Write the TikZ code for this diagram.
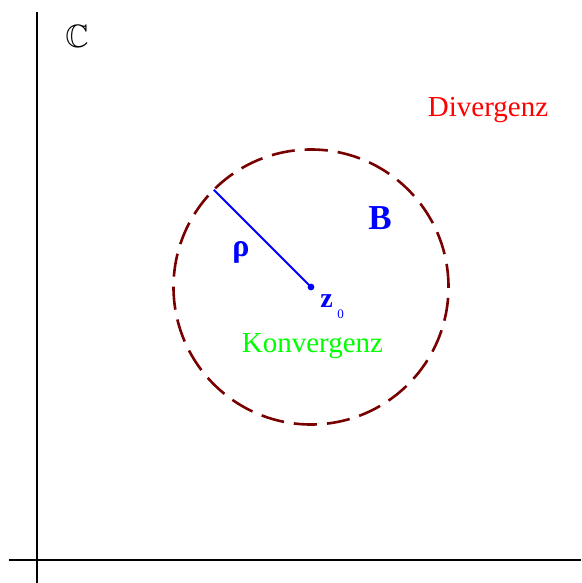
\documentclass[tikz,border=0pt]{standalone}
\usepackage{amssymb}
\usepackage{graphicx}
\usepackage{fontspec}
\setmainfont{Liberation Serif}
\definecolor{maroonc}{RGB}{120,0,0}
\tikzset{
  axis/.style={line width=1.3pt, black},
  ballstyle/.style={circle, draw=maroonc, line width=2.6pt, dash pattern=on 23.2pt off 10pt, minimum size=275pt, inner sep=0pt, outer sep=0pt},
  radius/.style={blue, line width=2pt},
  lbl/.style={inner sep=0pt, anchor=base}
}
\begin{document}
\begin{tikzpicture}[x=1pt,y=-1pt]
\useasboundingbox (0,0) rectangle (581,583);
\coordinate (vtop) at (37,12);
\coordinate (vbot) at (37,583);
\coordinate (hl) at (9,560);
\coordinate (hr) at (581,560);
\draw[axis] (vtop) -- (vbot);
\draw[axis] (hl) -- (hr);
\node[ballstyle] (ball) at (311,287) {};
\coordinate (z0) at (311,287);
\draw[radius] (z0) -- (ball.135);
\fill[blue] (z0) circle (3.4pt);
\node[lbl, font=\fontsize{24.88}{26}\selectfont, scale=1.3] (C) at (77,48) {$\mathbb{C}$};
\node[lbl, text=red, font=\fontsize{29}{30}\selectfont] (div) at (488,117) {Divergenz};
\node[lbl, text=green, font=\fontsize{29}{30}\selectfont] (konv) at (312.5,352) {Konvergenz};
\node[lbl, text=blue, font=\bfseries\fontsize{35}{36}\selectfont] (B) at (380,229) {B};
\node[lbl, text=blue, font=\bfseries\fontsize{32}{34}\selectfont] (rho) at (241,256) {ρ};
\node[lbl, text=blue, font=\bfseries\fontsize{28}{30}\selectfont] (zlbl) at (326.5,307) {z};
\node[lbl, text=blue, font=\fontsize{13}{14}\selectfont] (zsub) at (340.5,318) {0};
\end{tikzpicture}
\end{document}
